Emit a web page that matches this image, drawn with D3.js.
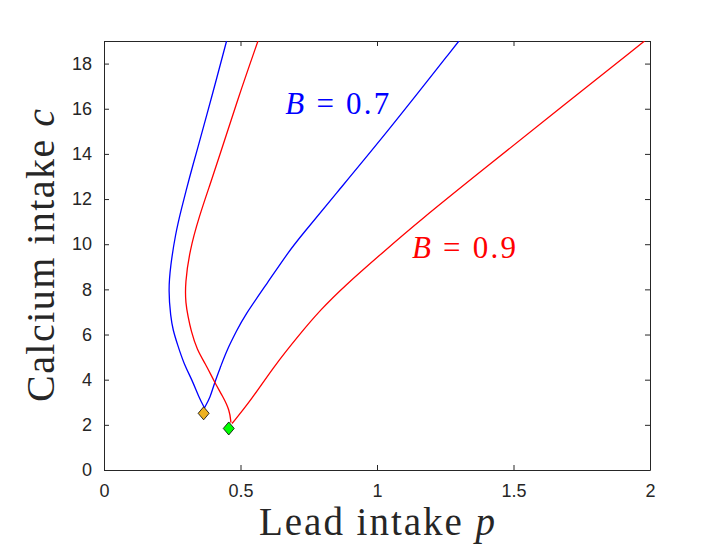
<!DOCTYPE html>
<html>
<head>
<meta charset="utf-8">
<script src="https://cdn.jsdelivr.net/npm/d3@7"></script>
<style>
  body { margin: 0; background: #fff; }
  svg { display: block; }
</style>
</head>
<body>
<script>
const width = 705,
  height = 552;

// curve data: [lead intake p, calcium intake c]
const blueLeft = [
  [0.368, 2.75], [0.347, 3.24], [0.323, 3.98], [0.292, 4.72], [0.268, 5.6],
  [0.253, 6.19], [0.244, 6.78], [0.236, 7.96], [0.243, 9.0], [0.262, 10.47],
  [0.282, 11.5], [0.314, 13.0], [0.341, 14.16], [0.376, 15.7], [0.414, 17.4],
  [0.449, 19.0]
];
const blueRight = [
  [0.368, 2.75], [0.39, 3.24], [0.404, 3.84], [0.428, 4.6], [0.45, 5.31],
  [0.487, 6.19], [0.512, 6.78], [0.597, 8.26], [0.68, 9.73], [0.719, 10.32],
  [0.84, 12.1], [1.04, 15.0], [1.3, 19.0]
];
const redLeft = [
  [0.465, 2.1], [0.46, 2.65], [0.436, 3.24], [0.404, 3.91], [0.371, 4.72],
  [0.341, 5.31], [0.318, 6.2], [0.308, 6.8], [0.299, 7.37], [0.297, 8.26],
  [0.314, 9.73], [0.348, 11.21], [0.39, 12.7], [0.42, 13.79], [0.492, 16.5],
  [0.564, 19.0]
];
const redRight = [
  [0.469, 2.06], [0.539, 3.1], [0.621, 4.57], [0.719, 6.05], [0.792, 7.08],
  [0.877, 8.11], [1.03, 9.73], [1.158, 11.06], [1.378, 13.2], [1.664, 15.97],
  [1.98, 19.0]
];
const markers = [
  { p: 0.365, c: 2.51, fill: "#EDB120" },
  { p: 0.457, c: 1.84, fill: "#00FF00" }
];
const curveLabels = [
  { p: 0.664, c: 15.78, B: "0.7", color: "#0000FF" },
  { p: 1.128, c: 9.37, B: "0.9", color: "#FF0000" }
];
const xTicks = [0, 0.5, 1, 1.5, 2];
const yTicks = [0, 2, 4, 6, 8, 10, 12, 14, 16, 18];

const margin = { top: 41, left: 104, right: 55, bottom: 82 };
const innerWidth = width - margin.left - margin.right,
  innerHeight = height - margin.top - margin.bottom;

const svg = d3
  .select("body")
  .append("svg")
  .attr("width", width)
  .attr("height", height);

const g = svg
  .append("g")
  .attr("transform", `translate(${margin.left},${margin.top})`);

const xScale = d3.scaleLinear().domain([0, 2]).range([0, innerWidth]);
const yScale = d3.scaleLinear().domain([0, 19]).range([innerHeight, 0]);

g.append("clipPath")
  .attr("id", "plotClip")
  .append("rect")
  .attr("width", innerWidth)
  .attr("height", innerHeight);

// box with inward ticks on all four sides
const axisColor = "#262626";
const tickLen = 5;

g.append("g")
  .attr("transform", `translate(0,${innerHeight})`)
  .call(d3.axisBottom(xScale).tickValues(xTicks).tickSizeInner(-tickLen).tickSizeOuter(0).tickPadding(14).tickFormat(d3.format("")));
g.append("g")
  .attr("class", "mirror")
  .call(d3.axisTop(xScale).tickValues(xTicks).tickSizeInner(-tickLen).tickSizeOuter(0));
g.append("g")
  .call(d3.axisLeft(yScale).tickValues(yTicks).tickSizeInner(-tickLen).tickSizeOuter(0).tickPadding(12));
g.append("g")
  .attr("class", "mirror")
  .attr("transform", `translate(${innerWidth},0)`)
  .call(d3.axisRight(yScale).tickValues(yTicks).tickSizeInner(-tickLen).tickSizeOuter(0));

g.selectAll(".mirror .tick text").remove();
g.selectAll(".domain").attr("stroke", axisColor);
g.selectAll(".tick line").attr("stroke", axisColor);
g.selectAll(".tick text")
  .attr("fill", axisColor)
  .attr("font-family", "'Liberation Sans', Arial, sans-serif")
  .attr("font-size", 18);

// curves
const line = d3
  .line()
  .x((d) => xScale(d[0]))
  .y((d) => yScale(d[1]))
  .curve(d3.curveBasis);

const curves = [
  { data: blueLeft, color: "#0000FF" },
  { data: blueRight, color: "#0000FF" },
  { data: redLeft, color: "#FF0000" },
  { data: redRight, color: "#FF0000" }
];

g.append("g")
  .attr("clip-path", "url(#plotClip)")
  .selectAll("path")
  .data(curves)
  .enter()
  .append("path")
  .attr("d", (d) => line(d.data))
  .attr("fill", "none")
  .attr("stroke", (d) => d.color)
  .attr("stroke-width", 1.3);

// bifurcation markers
g.selectAll(".marker")
  .data(markers)
  .enter()
  .append("path")
  .attr("class", "marker")
  .attr("transform", (d) => `translate(${xScale(d.p)},${yScale(d.c)})`)
  .attr("d", "M0,-6.5L5.5,0L0,6.5L-5.5,0Z")
  .attr("fill", (d) => d.fill)
  .attr("stroke", "#000")
  .attr("stroke-width", 0.8);

// B labels
const serif = "'Liberation Serif', 'Times New Roman', serif";
const bLabel = g
  .selectAll(".blabel")
  .data(curveLabels)
  .enter()
  .append("text")
  .attr("class", "blabel")
  .attr("x", (d) => xScale(d.p))
  .attr("y", (d) => yScale(d.c))
  .attr("fill", (d) => d.color)
  .attr("font-family", serif)
  .attr("font-size", 31)
  .attr("textLength", 104)
  .attr("lengthAdjust", "spacing");
bLabel.append("tspan").attr("font-style", "italic").text("B");
bLabel.append("tspan").text((d) => ` = ${d.B}`);

// axis titles
const xTitle = svg
  .append("text")
  .attr("x", margin.left + innerWidth / 2)
  .attr("y", 535)
  .attr("text-anchor", "middle")
  .attr("fill", axisColor)
  .attr("font-family", serif)
  .attr("font-size", 39)
  .attr("textLength", 236)
  .attr("lengthAdjust", "spacing");
xTitle.append("tspan").text("Lead intake ");
xTitle.append("tspan").attr("font-style", "italic").text("p");

const yTitle = svg
  .append("text")
  .attr("transform", `translate(54,${margin.top + innerHeight / 2}) rotate(-90)`)
  .attr("text-anchor", "middle")
  .attr("fill", axisColor)
  .attr("font-family", serif)
  .attr("font-size", 40)
  .attr("textLength", 293)
  .attr("lengthAdjust", "spacing");
yTitle.append("tspan").text("Calcium intake ");
yTitle.append("tspan").attr("font-style", "italic").text("c");
</script>
</body>
</html>
